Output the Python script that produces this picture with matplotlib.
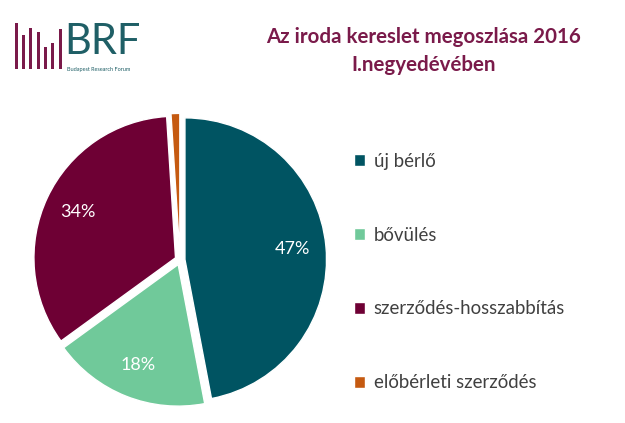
import matplotlib.pyplot as plt

plt.rcParams['font.family'] = ['Lato', 'DejaVu Sans']

labels = ["új bérlő", "bővülés", "szerződés-hosszabbítás", "előbérleti szerződés"]
shares = [47, 18, 34, 1]
colors = ["#005462", "#70C99A", "#6E0034", "#C55A11"]

title = "Az iroda kereslet megoszlása 2016\nI.negyedévében"

# logo decoration
logo_bars = [45, 33, 40, 36, 21, 25, 39]

fig = plt.figure(figsize=(6.25, 4.23), dpi=100)

ax = fig.add_axes([0.032, 0.007, 0.512, 0.757])
wedges, _, autotexts = ax.pie(
    shares, colors=colors, startangle=90, counterclock=False,
    explode=[0.035] * len(shares), autopct="%1.0f%%", pctdistance=0.76,
    wedgeprops=dict(edgecolor="white", linewidth=1),
    textprops=dict(color="white", fontsize=13))
autotexts[-1].set_visible(False)
ax.set_xlim(-1.13, 1.13)
ax.set_ylim(-1.13, 1.13)
ax.set_aspect("equal")

fig.legend(wedges, labels, loc="upper left", bbox_to_anchor=(0.54, 0.678),
           frameon=False, fontsize=13.4, labelspacing=3.05,
           handlelength=0.6, handleheight=0.6, handletextpad=0.45,
           labelcolor="#404040")

fig.text(0.678, 0.88, title, ha="center", va="center", fontsize=14.8,
         fontweight="bold", color="#7A1A4A", linespacing=1.5)

# logo
lax = fig.add_axes([0.02, 0.838, 0.082, 0.11])
lax.bar(range(len(logo_bars)), logo_bars, width=0.42, color="#7A1A4A")
lax.set_xlim(-0.5, len(logo_bars) - 0.5)
lax.set_ylim(0, 46)
lax.axis("off")
fig.text(0.103, 0.9, "BRF", fontsize=30, color="#1F5F66", va="center",
         ha="left")
fig.text(0.107, 0.835, "Budapest Research Forum", fontsize=4, color="#1F5F66",
         va="center", ha="left")

fig.savefig("out.png", dpi=100)
